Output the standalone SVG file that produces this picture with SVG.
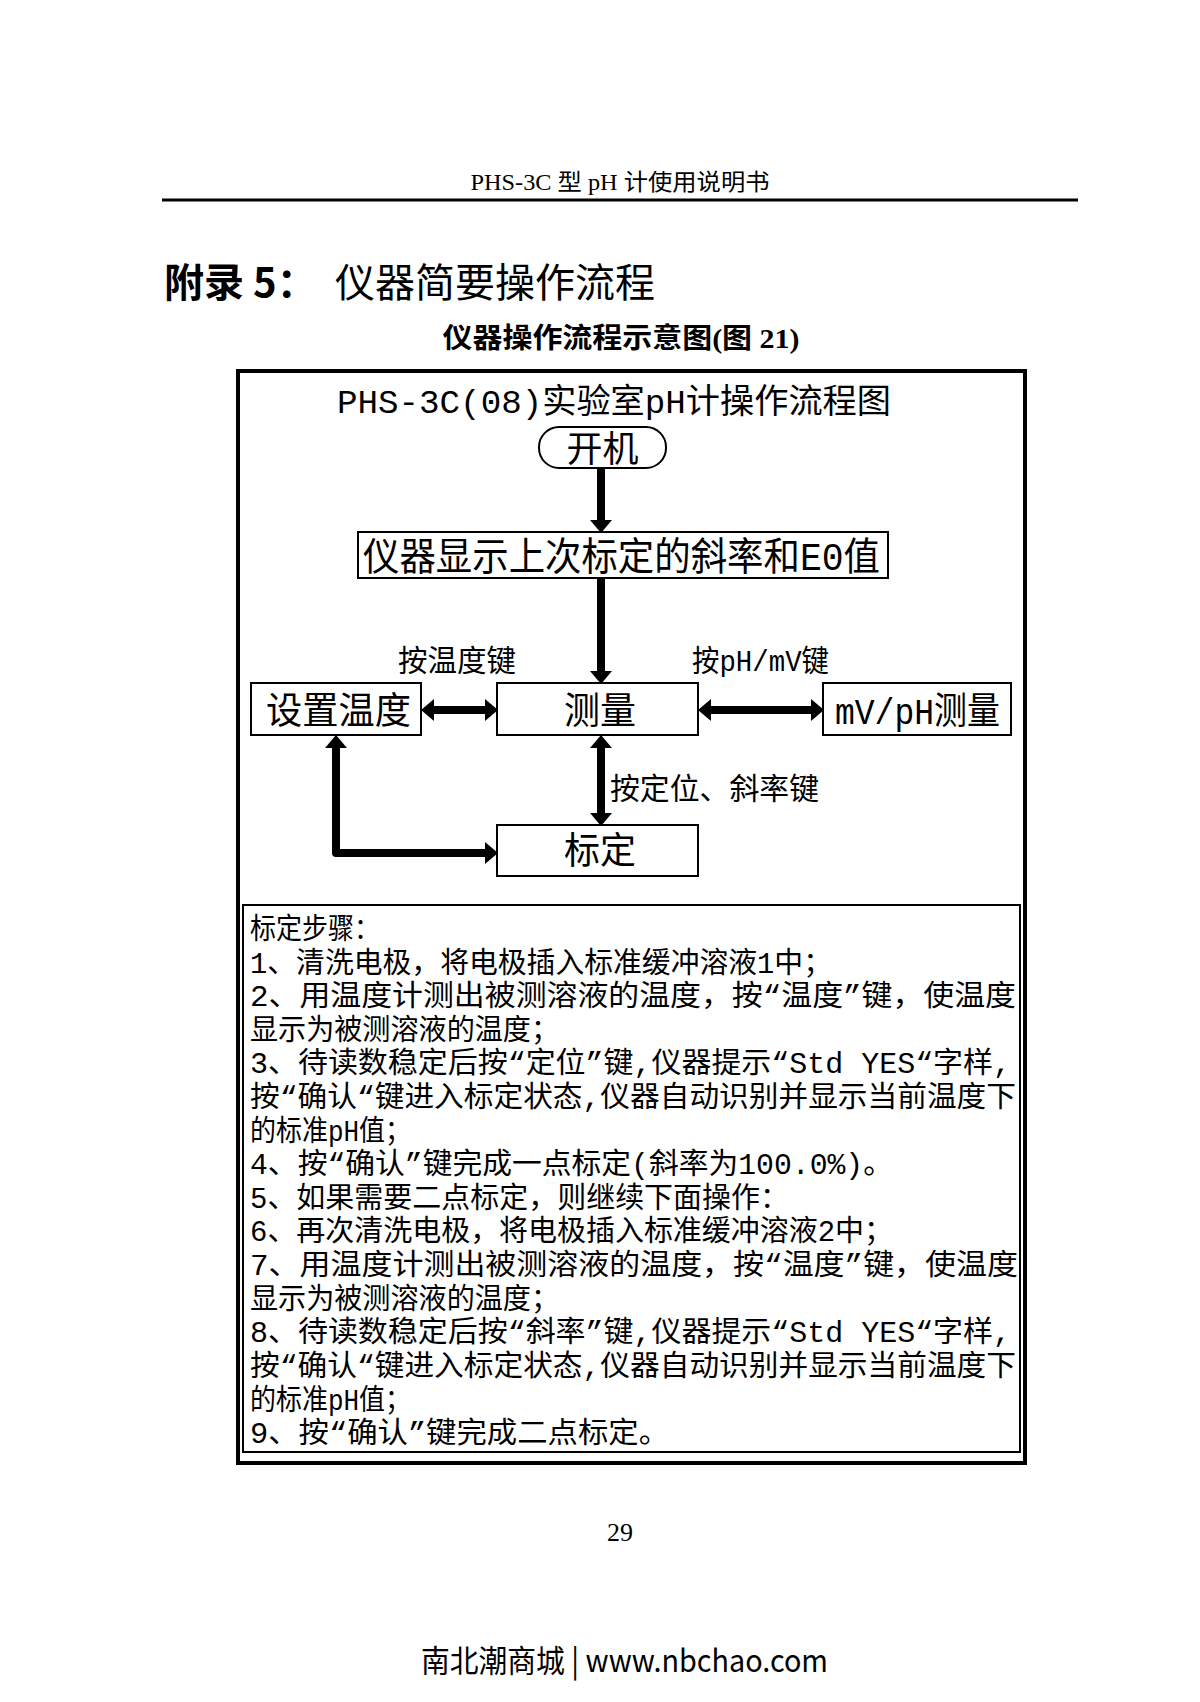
<svg xmlns="http://www.w3.org/2000/svg" width="1200" height="1702" viewBox="0 0 1200 1702">
<style>
.cjk{font-family:"Liberation Mono","Noto Sans CJK SC",monospace;fill:#000}
.serif{font-family:"Liberation Serif","Noto Sans CJK SC",serif;fill:#000}
.sans{font-family:"Noto Sans CJK SC","Liberation Sans",sans-serif;fill:#000}
.box{fill:#fff;stroke:#000;stroke-width:2}
.conn{fill:none;stroke:#000;stroke-width:8;stroke-linejoin:round}
.line{font-size:29px}
</style>
<defs>
<marker id="ah" viewBox="0 0 13 22" refX="0" refY="11" markerWidth="13" markerHeight="22" markerUnits="userSpaceOnUse" orient="auto-start-reverse">
<path d="M0,0 L13,11 L0,22 Z" fill="#000"/>
</marker>
</defs>
<rect x="0" y="0" width="1200" height="1702" fill="#fff"/>

<g id="page-header">
<text class="serif" x="620" y="190" font-size="23" text-anchor="middle" textLength="299" lengthAdjust="spacingAndGlyphs">PHS-3C 型 pH 计使用说明书</text>
<line x1="162" y1="200" x2="1078" y2="200" stroke="#000" stroke-width="3"/>
</g>

<g id="page-title">
<text class="sans" x="164" y="297" font-size="40" font-weight="bold">附录 5：</text>
<text class="sans" x="335" y="297" font-size="40">仪器简要操作流程</text>
<text class="serif" x="621" y="348" font-size="28" font-weight="bold" text-anchor="middle" textLength="357" lengthAdjust="spacingAndGlyphs">仪器操作流程示意图(图 21)</text>
</g>

<g id="frame">
<rect x="238" y="371" width="787" height="1092" fill="none" stroke="#000" stroke-width="4"/>
<text class="cjk" x="337" y="413" font-size="34" textLength="554" lengthAdjust="spacingAndGlyphs">PHS-3C(08)实验室pH计操作流程图</text>
</g>

<g id="node-start">
<rect class="box" x="539" y="427" width="127" height="41" rx="20" ry="20"/>
<text class="cjk" x="602.5" y="462" font-size="36" text-anchor="middle">开机</text>
</g>

<g id="node-display">
<rect class="box" x="358" y="532" width="530" height="46"/>
<text class="cjk" x="363" y="570" font-size="39" textLength="517" lengthAdjust="spacingAndGlyphs">仪器显示上次标定的斜率和E0值</text>
</g>

<g id="node-settemp">
<rect class="box" x="251" y="683" width="170" height="52"/>
<text class="cjk" x="266" y="724" font-size="37" textLength="145" lengthAdjust="spacingAndGlyphs">设置温度</text>
</g>

<g id="node-measure">
<rect class="box" x="497" y="683" width="201" height="52"/>
<text class="cjk" x="564" y="724" font-size="37" textLength="72" lengthAdjust="spacingAndGlyphs">测量</text>
</g>

<g id="node-mvph">
<rect class="box" x="823" y="683" width="188" height="52"/>
<text class="cjk" x="835" y="724" font-size="37" textLength="165" lengthAdjust="spacingAndGlyphs">mV/pH测量</text>
</g>

<g id="node-calibrate">
<rect class="box" x="497" y="825" width="201" height="51"/>
<text class="cjk" x="564" y="864" font-size="37" textLength="72" lengthAdjust="spacingAndGlyphs">标定</text>
</g>

<g id="connectors">
<path class="conn" d="M601,468 V520" marker-end="url(#ah)"/>
<path class="conn" d="M601,578 V671" marker-end="url(#ah)"/>
<path class="conn" d="M434,710 H485" marker-start="url(#ah)" marker-end="url(#ah)"/>
<path class="conn" d="M711,710 H811" marker-start="url(#ah)" marker-end="url(#ah)"/>
<path class="conn" d="M601,748 V813" marker-start="url(#ah)" marker-end="url(#ah)"/>
<path class="conn" d="M336,748 V853 H485" marker-start="url(#ah)" marker-end="url(#ah)"/>
<text class="cjk" x="398" y="671" font-size="30" textLength="118" lengthAdjust="spacingAndGlyphs">按温度键</text>
<text class="cjk" x="692" y="671" font-size="30" textLength="137" lengthAdjust="spacingAndGlyphs">按pH/mV键</text>
<text class="cjk" x="610" y="799" font-size="30" textLength="209" lengthAdjust="spacingAndGlyphs">按定位、斜率键</text>
</g>

<g id="node-steps">
<rect x="243" y="905" width="777" height="547" fill="#fff" stroke="#000" stroke-width="2"/>
<text class="cjk line" x="250" y="939" textLength="130" lengthAdjust="spacingAndGlyphs">标定步骤：</text>
<text class="cjk line" x="250" y="973" textLength="582" lengthAdjust="spacingAndGlyphs">1、清洗电极，将电极插入标准缓冲溶液1中；</text>
<text class="cjk line" x="250" y="1006" textLength="766" lengthAdjust="spacingAndGlyphs">2、用温度计测出被测溶液的温度，按“温度”键，使温度</text>
<text class="cjk line" x="250" y="1040" textLength="309" lengthAdjust="spacingAndGlyphs">显示为被测溶液的温度；</text>
<text class="cjk line" x="250" y="1073" textLength="761" lengthAdjust="spacingAndGlyphs">3、待读数稳定后按“定位”键,仪器提示“Std YES“字样,</text>
<text class="cjk line" x="250" y="1107" textLength="766" lengthAdjust="spacingAndGlyphs">按“确认“键进入标定状态,仪器自动识别并显示当前温度下</text>
<text class="cjk line" x="250" y="1141" textLength="161" lengthAdjust="spacingAndGlyphs">的标准pH值；</text>
<text class="cjk line" x="250" y="1174" textLength="643" lengthAdjust="spacingAndGlyphs">4、按“确认”键完成一点标定(斜率为100.0%)。</text>
<text class="cjk line" x="250" y="1208" textLength="539" lengthAdjust="spacingAndGlyphs">5、如果需要二点标定，则继续下面操作：</text>
<text class="cjk line" x="250" y="1241" textLength="643" lengthAdjust="spacingAndGlyphs">6、再次清洗电极，将电极插入标准缓冲溶液2中；</text>
<text class="cjk line" x="250" y="1275" textLength="768" lengthAdjust="spacingAndGlyphs">7、用温度计测出被测溶液的温度，按“温度”键，使温度</text>
<text class="cjk line" x="250" y="1309" textLength="309" lengthAdjust="spacingAndGlyphs">显示为被测溶液的温度；</text>
<text class="cjk line" x="250" y="1342" textLength="761" lengthAdjust="spacingAndGlyphs">8、待读数稳定后按“斜率”键,仪器提示“Std YES“字样,</text>
<text class="cjk line" x="250" y="1376" textLength="766" lengthAdjust="spacingAndGlyphs">按“确认“键进入标定状态,仪器自动识别并显示当前温度下</text>
<text class="cjk line" x="250" y="1410" textLength="161" lengthAdjust="spacingAndGlyphs">的标准pH值；</text>
<text class="cjk line" x="250" y="1443" textLength="419" lengthAdjust="spacingAndGlyphs">9、按“确认”键完成二点标定。</text>
</g>

<g id="page-footer">
<text class="serif" x="620" y="1541" font-size="26" text-anchor="middle">29</text>
<text class="sans" x="421" y="1672" font-size="31" textLength="407" lengthAdjust="spacingAndGlyphs" fill="#111">南北潮商城 | www.nbchao.com</text>
</g>
</svg>
